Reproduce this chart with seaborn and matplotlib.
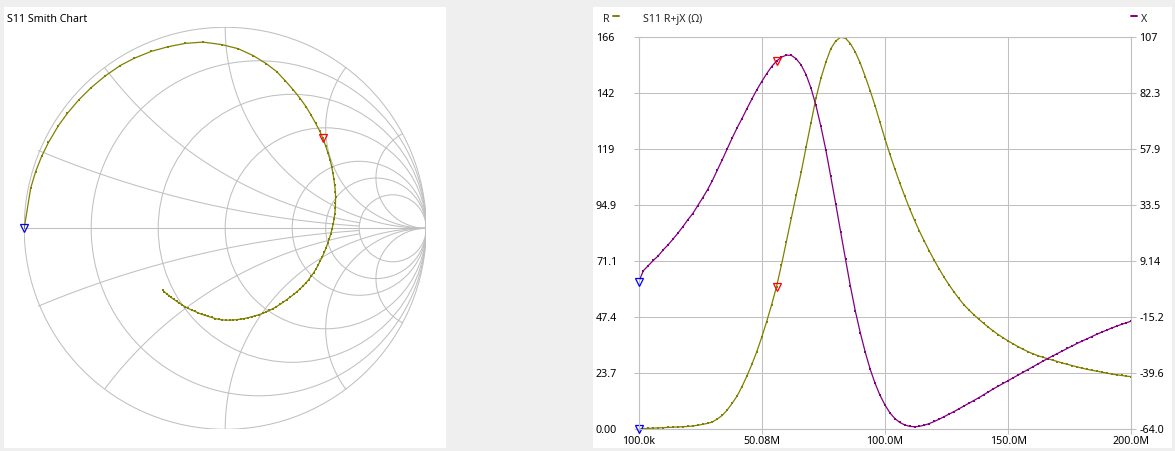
import numpy as np
import matplotlib
matplotlib.use("Agg")
import matplotlib.pyplot as plt
from matplotlib.patches import Rectangle, Circle
import seaborn as sns

# ---------------- data ----------------
freq_start_mhz = 0.1
freq_stop_mhz = 200.0
n_points = 101

resistance = [
    0.0, 0.3, 0.4, 0.5, 0.6, 0.7, 0.8, 0.9, 1.0, 1.1,
    1.2, 1.4, 1.7, 2.1, 2.5, 3.1, 4.4, 5.9, 8.2, 11.0,
    14.1, 18.1, 22.6, 27.5, 32.9, 39.0, 45.6, 52.7, 60.4, 69.6,
    79.5, 89.4, 99.2, 108.8, 119.5, 129.9, 140.2, 148.6, 155.4, 161.1,
    164.4, 166.0, 165.6, 163.3, 159.7, 155.0, 149.4, 143.4, 137.0, 130.0,
    123.0, 116.5, 110.3, 104.4, 98.8, 93.5, 88.5, 83.9, 79.6, 75.5,
    71.6, 67.9, 64.4, 61.2, 58.2, 55.4, 52.8, 50.6, 48.6, 46.7,
    44.9, 43.2, 41.6, 40.1, 38.7, 37.4, 36.2, 35.0, 33.9, 32.9,
    32.0, 31.2, 30.5, 29.9, 29.3, 28.7, 28.1, 27.5, 27.0, 26.4,
    25.9, 25.4, 25.0, 24.6, 24.2, 23.8, 23.4, 23.1, 22.8, 22.5,
    22.3,
]

reactance = [
    0.0, 5.1, 7.3, 9.5, 11.5, 14.1, 16.3, 18.8, 21.4, 24.2,
    27.2, 29.9, 33.3, 36.7, 40.3, 44.3, 48.9, 53.4, 58.1, 62.8,
    67.2, 71.3, 75.6, 79.8, 83.8, 87.4, 90.8, 93.9, 96.3, 98.0,
    98.9, 98.8, 97.3, 94.6, 90.4, 84.5, 77.0, 67.9, 57.7, 46.1,
    34.3, 22.1, 10.0, -1.8, -12.6, -22.0, -30.4, -37.8, -44.0, -49.2,
    -53.4, -56.8, -59.3, -61.0, -62.1, -62.7, -62.9, -62.7, -62.2, -61.5,
    -60.6, -59.6, -58.5, -57.4, -56.3, -55.1, -53.9, -52.7, -51.5, -50.3,
    -49.0, -47.7, -46.4, -45.2, -44.0, -42.8, -41.6, -40.4, -39.2, -38.0,
    -36.8, -35.6, -34.4, -33.2, -32.1, -31.0, -29.9, -28.8, -27.7, -26.6,
    -25.6, -24.6, -23.6, -22.6, -21.7, -20.8, -19.9, -19.1, -18.3, -17.6,
    -16.9,
]

marker_index = [0, 28]
marker_colors = ["#0000ff", "#ff0000"]

freq_tick_labels = ["100.0k", "50.08M", "100.0M", "150.0M", "200.0M"]
r_tick_labels = ["0.00", "23.7", "47.4", "71.1", "94.9", "119", "142", "166"]
x_tick_labels = ["-64.0", "-39.6", "-15.2", "9.14", "33.5", "57.9", "82.3", "107"]
r_limits = (0.0, 166.0)
x_limits = (-64.0, 106.66)
z0 = 50.0

# ---------------- style ----------------
sns.set_style("white")
plt.rcParams["font.family"] = ["Noto Sans", "DejaVu Sans"]
plt.rcParams["font.size"] = 7.7

BG = "#efefef"
GRID = "#c0c0c0"
R_COL = "#808000"
X_COL = "#800080"
FS = 7.7
LW = 0.75
DLW = 0.9
DMS = 1.5

W, H = 1175, 451
fig = plt.figure(figsize=(W / 100, H / 100), dpi=100, facecolor=BG)


def px_rect(x0, y0, x1, y1):
    return [x0 / W, 1 - y1 / H, (x1 - x0) / W, (y1 - y0) / H]


# white panels
for (x0, y0, x1, y1) in [(4, 7, 446, 448), (593, 7, 1172, 448)]:
    fig.add_artist(Rectangle((x0 / W, 1 - y1 / H), (x1 - x0) / W, (y1 - y0) / H,
                             transform=fig.transFigure, facecolor="white",
                             edgecolor="none", zorder=0))

freq = np.linspace(freq_start_mhz, freq_stop_mhz, n_points)
R = np.array(resistance)
X = np.array(reactance)

# ---------------- Smith chart ----------------
ax_s = fig.add_axes(px_rect(24.2, 27.3, 426.2, 429.3))
ax_s.set_xlim(-1, 1)
ax_s.set_ylim(-1, 1)
ax_s.axis("off")
ax_s.patch.set_alpha(0)

outer = Circle((0, 0), 1, fill=False, ec=GRID, lw=LW)
ax_s.add_patch(outer)
ax_s.plot([-1, 1], [0, 0], color=GRID, lw=LW)
for r in [0.2, 0.5, 1, 2, 3, 5]:
    ax_s.add_patch(Circle((r / (r + 1), 0), 1 / (r + 1), fill=False, ec=GRID, lw=LW))
# reactance arcs (centre offset, start angle, span angle)
for c, a0, span in [(0.25, 90, 152), (0.5, 90, 127), (1.0, 90, 90),
                    (2.0, 99.5, 43.5), (5.0, 93.85, 18.85)]:
    t = np.radians(np.linspace(a0, a0 + span, 200))
    xs = 1 + c * np.cos(t)
    ys = -c + c * np.sin(t)
    ax_s.plot(xs, ys, color=GRID, lw=LW)
    ax_s.plot(xs, -ys, color=GRID, lw=LW)

Z = R + 1j * X
gamma = (Z - z0) / (Z + z0)
sns.lineplot(x=gamma.real, y=gamma.imag, sort=False, estimator=None, ax=ax_s,
             color=R_COL, lw=DLW, marker="s", markersize=DMS,
             markeredgewidth=0, legend=False)
for idx, col in zip(marker_index, marker_colors):
    ax_s.plot([gamma.real[idx]], [gamma.imag[idx]], marker="v", mfc="none",
              mec=col, ms=6, mew=0.9, ls="none", clip_on=False, zorder=5)
fig.text(7 / W, 1 - 22 / H, "S11 Smith Chart", ha="left", va="baseline",
         fontsize=FS, color="black")

# ---------------- R + jX chart ----------------
ax = fig.add_axes(px_rect(638.5, 37.3, 1131.4, 429.3))
ax.patch.set_alpha(0)
ax2 = ax.twinx()
ax2.set_position(px_rect(638.5, 37.3, 1131.4, 429.3))

sns.lineplot(x=freq, y=R, ax=ax, color=R_COL, lw=DLW, marker="s",
             markersize=DMS, markeredgewidth=0, legend=False)
sns.lineplot(x=freq, y=X, ax=ax2, color=X_COL, lw=DLW, marker="s",
             markersize=DMS, markeredgewidth=0, legend=False)

ax.set_xlim(freq_start_mhz, freq_stop_mhz)
ax.set_ylim(*r_limits)
ax2.set_ylim(*x_limits)
ax.set_xticks(np.linspace(freq_start_mhz, freq_stop_mhz, len(freq_tick_labels)))
ax.set_xticklabels(freq_tick_labels)
ax.set_yticks(np.linspace(r_limits[0], r_limits[1], len(r_tick_labels)))
ax.set_yticklabels(r_tick_labels)
ax2.set_yticks(np.linspace(x_limits[0], x_limits[1], len(x_tick_labels)))
ax2.set_yticklabels(x_tick_labels)
for a in (ax, ax2):
    a.set_xlabel("")
    a.set_ylabel("")
    for s in a.spines.values():
        s.set_color(GRID)
        s.set_linewidth(LW)
ax.grid(True, color=GRID, lw=LW)
ax2.grid(False)
ax.tick_params(axis="both", color=GRID, length=3.6, width=LW, labelsize=FS,
               labelcolor="black")
ax.tick_params(axis="y", left=True, pad=27)
ax.tick_params(axis="x", bottom=True, pad=1.5)
for lab in ax.get_yticklabels():
    lab.set_horizontalalignment("left")
ax2.tick_params(axis="y", right=True, color=GRID, length=3.6, width=LW,
                labelsize=FS, labelcolor="black", pad=2)

for idx, col in zip(marker_index, marker_colors):
    ax.plot([freq[idx]], [R[idx]], marker="v", mfc="none", mec=col, ms=6,
            mew=0.9, ls="none", clip_on=False, zorder=5)
    ax2.plot([freq[idx]], [X[idx]], marker="v", mfc="none", mec=col, ms=6,
             mew=0.9, ls="none", clip_on=False, zorder=5)

# header
fig.text(603 / W, 1 - 22 / H, "R", ha="left", va="baseline", fontsize=FS)
fig.add_artist(plt.Line2D([613 / W, 619 / W], [1 - 16 / H, 1 - 16 / H],
                          transform=fig.transFigure, color=R_COL, lw=1.4))
fig.text(643 / W, 1 - 22 / H, "S11 R+jX (\u03a9)", ha="left", va="baseline", fontsize=FS)
fig.add_artist(plt.Line2D([1131 / W, 1137 / W], [1 - 16 / H, 1 - 16 / H],
                          transform=fig.transFigure, color=X_COL, lw=1.4))
fig.text(1141 / W, 1 - 22 / H, "X", ha="left", va="baseline", fontsize=FS)

fig.savefig("out.png", dpi=100, facecolor=BG)
